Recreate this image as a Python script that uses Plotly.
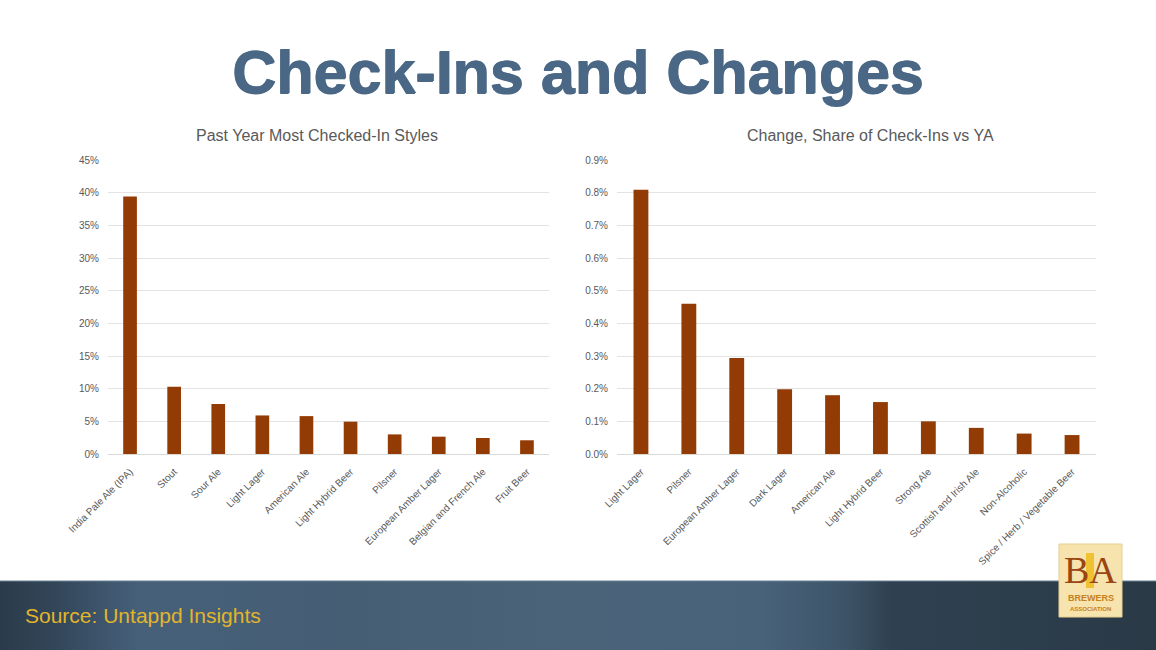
import plotly.graph_objects as go

# ---- data ----
left_styles = ["India Pale Ale (IPA)", "Stout", "Sour Ale", "Light Lager", "American Ale",
               "Light Hybrid Beer", "Pilsner", "European Amber Lager",
               "Belgian and French Ale", "Fruit Beer"]
left_share = [0.394, 0.103, 0.0765, 0.059, 0.058, 0.0495, 0.030, 0.0265, 0.0245, 0.021]

right_styles = ["Light Lager", "Pilsner", "European Amber Lager", "Dark Lager", "American Ale",
                "Light Hybrid Beer", "Strong Ale", "Scottish and Irish Ale", "Non-Alcoholic",
                "Spice / Herb / Vegetable Beer"]
right_change = [0.00809, 0.0046, 0.00294, 0.00198, 0.0018, 0.00159, 0.0010, 0.0008,
                0.000625, 0.00058]

main_title = "Check-Ins and Changes"
left_title = "Past Year Most Checked-In Styles"
right_title = "Change, Share of Check-Ins vs YA"
source_text = "Source: Untappd Insights"

# ---- style ----
BAR = "#933B04"
GRID = "#e3e3e3"
TITLE_C = "#4a6885"
TICK = dict(family="Liberation Sans, Arial, sans-serif", size=10, color="#595959")
W, H = 1156, 650
band_top = 1 - 581 / H

fig = go.Figure()

# background band (decoration) with horizontal gradient
fig.add_trace(go.Scatter(
    x=[0, 1, 1, 0, 0], y=[0, 0, 1, 1, 0], mode="lines", fill="toself",
    line=dict(width=0), hoverinfo="skip", showlegend=False,
    fillgradient=dict(type="horizontal", colorscale=[
        [0.0, "#2b3b4a"], [0.05, "#33475a"], [0.12, "#46607a"], [0.3, "#455e74"],
        [0.5, "#4a6379"], [0.66, "#48627a"], [0.73, "#3d5468"], [0.77, "#2f4151"],
        [1.0, "#2a3946"]]),
    xaxis="x3", yaxis="y3"))

fig.add_trace(go.Bar(x=left_styles, y=left_share, marker=dict(color=BAR, line=dict(width=0)),
                     xaxis="x", yaxis="y", showlegend=False))
fig.add_trace(go.Bar(x=right_styles, y=right_change, marker=dict(color=BAR, line=dict(width=0)),
                     xaxis="x2", yaxis="y2", showlegend=False))

ydom = [1 - 454 / H, 1 - 160 / H]
axis_common = dict(showgrid=False, showline=False, zeroline=False, ticks="", tickangle=-45,
                   tickfont=TICK, fixedrange=True, automargin=False, ticklabelstandoff=9)
yaxis_common = dict(showgrid=True, gridcolor=GRID, gridwidth=1, zeroline=True,
                    zerolinecolor="#d9d9d9", zerolinewidth=1, showline=False, ticks="",
                    tickfont=TICK, fixedrange=True, automargin=False, ticklabelstandoff=8)
hidden = dict(visible=False, fixedrange=True, automargin=False, showgrid=False, zeroline=False)

fig.update_layout(
    template="none",
    width=W, height=H,
    margin=dict(l=0, r=0, t=0, b=0, pad=0),
    paper_bgcolor="white", plot_bgcolor="rgba(0,0,0,0)",
    bargap=0.69,
    xaxis=dict(domain=[108 / W, 549 / W], anchor="y", **axis_common),
    yaxis=dict(domain=ydom, anchor="x", range=[0, 0.45], dtick=0.05, tickformat=".0%",
               **yaxis_common),
    xaxis2=dict(domain=[617 / W, 1096 / W], anchor="y2", **axis_common),
    yaxis2=dict(domain=ydom, anchor="x2", range=[0, 0.009], dtick=0.001, tickformat=".1%",
                **yaxis_common),
    xaxis3=dict(domain=[0, 1], anchor="y3", range=[0, 1], **hidden),
    yaxis3=dict(domain=[0, band_top], anchor="x3", range=[0, 1], **hidden),
)

shapes = [
    dict(type="line", xref="paper", yref="paper", x0=0, x1=1, y0=band_top, y1=band_top,
         line=dict(color="#6a8093", width=1)),
    # logo box
    dict(type="rect", xref="paper", yref="paper", x0=1059 / W, x1=1122 / W,
         y0=1 - 617 / H, y1=1 - 544 / H, fillcolor="#f6e3ae",
         line=dict(color="#e8cf8e", width=1)),
    dict(type="rect", xref="paper", yref="paper", x0=1086 / W, x1=1094 / W,
         y0=1 - 588 / H, y1=1 - 553 / H, fillcolor="#f0c232", line=dict(width=0)),
]
fig.update_layout(shapes=shapes)

annotations = [
    dict(text=f"<b>{main_title}</b>", x=578 / W, y=1 - 72 / H, xref="paper", yref="paper",
         showarrow=False, xanchor="center", yanchor="middle",
         font=dict(family="Liberation Sans, Arial, sans-serif", size=61, color=TITLE_C,
                   shadow=f"1px 0px 0px {TITLE_C}, 0px 1px 0px {TITLE_C}")),
    dict(text=left_title, x=317 / W, y=1 - 135 / H, xref="paper", yref="paper",
         showarrow=False, xanchor="center", yanchor="middle",
         font=dict(family="Liberation Sans, Arial, sans-serif", size=16, color="#595959")),
    dict(text=right_title, x=870 / W, y=1 - 135 / H, xref="paper", yref="paper",
         showarrow=False, xanchor="center", yanchor="middle",
         font=dict(family="Liberation Sans, Arial, sans-serif", size=16, color="#595959")),
    dict(text=source_text, x=23 / W, y=1 - 615 / H, xref="paper", yref="paper",
         showarrow=False, xanchor="left", yanchor="middle",
         font=dict(family="Liberation Sans, Arial, sans-serif", size=21, color="#e2b52a")),
    dict(text="BA", x=1090.5 / W, y=1 - 570 / H, xref="paper", yref="paper",
         showarrow=False, xanchor="center", yanchor="middle",
         font=dict(family="Liberation Serif, Times New Roman, serif", size=38, color="#9a4512")),
    dict(text="<b>BREWERS</b>", x=1090.5 / W, y=1 - 598 / H, xref="paper", yref="paper",
         showarrow=False, xanchor="center", yanchor="middle",
         font=dict(family="Liberation Sans Narrow, Liberation Sans, Arial", size=9,
                   color="#c7801d")),
    dict(text="<b>ASSOCIATION</b>", x=1090.5 / W, y=1 - 609 / H, xref="paper", yref="paper",
         showarrow=False, xanchor="center", yanchor="middle",
         font=dict(family="Liberation Sans Narrow, Liberation Sans, Arial", size=6,
                   color="#c7801d")),
]
fig.update_layout(annotations=annotations)

fig.write_html("out.html", config={"displayModeBar": False},
               post_script="document.body.style.margin='0';document.body.style.overflow='hidden';")
